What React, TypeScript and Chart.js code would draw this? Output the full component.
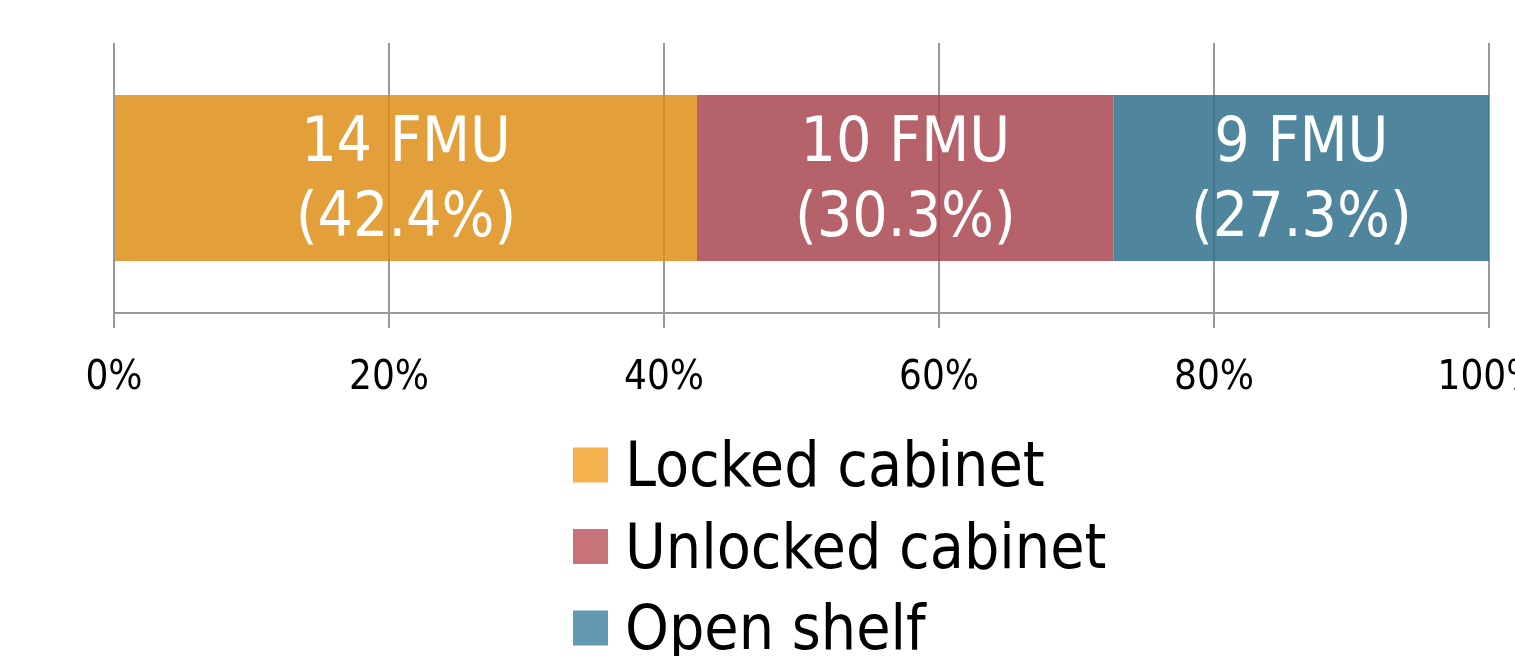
import React, { useEffect, useRef } from 'react';
import { Chart, registerables } from 'chart.js';

Chart.register(...registerables);

// ---- data ----
const categories = ['Storage'];
const seriesNames = ['Locked cabinet', 'Unlocked cabinet', 'Open shelf'];
const fmuCounts = [14, 10, 9];
const percentValues = [42.4, 30.3, 27.3];
const xTickValues = [0, 20, 40, 60, 80, 100];

// ---- styles ----
const FONT = '"DejaVu Sans Condensed", "DejaVu Sans", sans-serif';
const barColors = ['rgba(222,143,23,0.85)', 'rgba(168,71,80,0.85)', 'rgba(48,113,141,0.85)'];
const legendColors = ['#F6B24F', '#C8737A', '#6399B1'];
const GRID = '#999999';

const dataLabelPlugin = {
  id: 'dataLabels',
  afterDatasetsDraw(chart: any) {
    const ctx = chart.ctx;
    ctx.save();
    ctx.font = `62px ${FONT}`;
    ctx.fillStyle = '#ffffff';
    ctx.textAlign = 'center';
    ctx.textBaseline = 'middle';
    chart.data.datasets.forEach((ds: any, i: number) => {
      const meta = chart.getDatasetMeta(i);
      meta.data.forEach((bar: any, j: number) => {
        const cx = (bar.x + bar.base) / 2;
        const cy = bar.y;
        ctx.fillText(`${ds.counts[j]} FMU`, cx, cy - 33);
        ctx.fillText(`(${ds.data[j].toFixed(1)}%)`, cx, cy + 42);
      });
    });
    ctx.restore();
  },
};

const legendPlugin = {
  id: 'columnLegend',
  afterDraw(chart: any) {
    const ctx = chart.ctx;
    ctx.save();
    ctx.font = `62px ${FONT}`;
    ctx.textAlign = 'left';
    ctx.textBaseline = 'middle';
    const x0 = 573;
    const y0 = 465;
    const step = 81.5;
    const box = 35;
    chart.data.datasets.forEach((ds: any, i: number) => {
      const cy = y0 + i * step;
      ctx.fillStyle = ds.legendColor;
      ctx.fillRect(x0, cy - box / 2, box, box);
      ctx.fillStyle = '#000000';
      ctx.fillText(ds.label, x0 + 52, cy + 5);
    });
    ctx.restore();
  },
};

export default function App() {
  const canvasRef = useRef<HTMLCanvasElement | null>(null);

  useEffect(() => {
    if (!canvasRef.current) return;
    const chart = new Chart(canvasRef.current, {
      type: 'bar',
      data: {
        labels: categories,
        datasets: seriesNames.map((name, i) => ({
          label: name,
          data: [percentValues[i]],
          counts: [fmuCounts[i]],
          backgroundColor: barColors[i],
          legendColor: legendColors[i],
          borderWidth: 0,
          categoryPercentage: 1,
          barPercentage: 0.615,
        })) as any,
      },
      options: {
        indexAxis: 'y',
        responsive: false,
        animation: false,
        events: [],
        layout: { padding: { left: 114, right: 111, top: 43, bottom: 357 } },
        plugins: {
          legend: { display: false },
          tooltip: { enabled: false },
        },
        scales: {
          x: {
            stacked: true,
            min: 0,
            max: 100,
            afterBuildTicks: (scale: any) => {
              scale.ticks = xTickValues.map((v) => ({ value: v }));
            },
            afterFit: (scale: any) => {
              scale.height = 90;
            },
            ticks: {
              callback: (v: any) => `${v}%`,
              font: { family: FONT, size: 40 },
              color: '#000000',
              padding: 27,
              maxRotation: 0,
              autoSkip: false,
            },
            grid: { color: GRID, lineWidth: 2, tickLength: 15, drawTicks: true },
            border: { color: GRID, width: 2 },
          },
          y: { stacked: true, display: false },
        },
      } as any,
      plugins: [dataLabelPlugin, legendPlugin],
    });
    return () => chart.destroy();
  }, []);

  return (
    <div style={{ position: 'fixed', left: 0, top: 0, width: 1515, height: 656, overflow: 'hidden', background: '#fff' }}>
      <canvas ref={canvasRef} width={1600} height={760} style={{ width: 1600, height: 760, display: 'block' }} />
    </div>
  );
}
